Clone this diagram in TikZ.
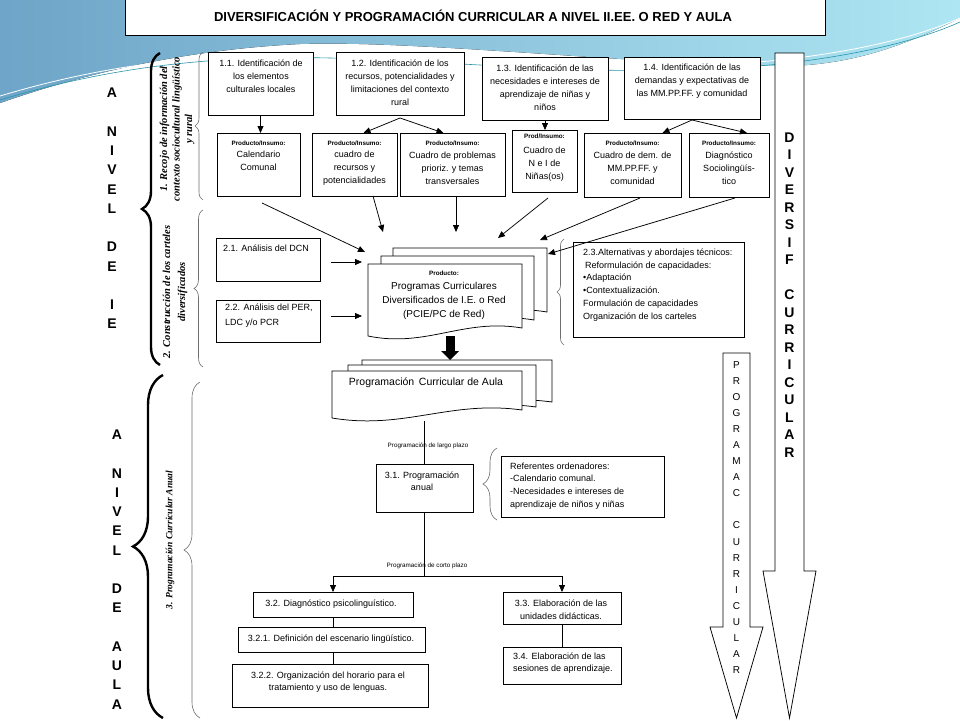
\documentclass[tikz,border=0pt]{standalone}
\usepackage{fontspec}
\setmainfont{Liberation Sans}
\newfontfamily\rotf{Liberation Serif}
\usetikzlibrary{arrows.meta,decorations.pathreplacing,calc}
\definecolor{bgA}{RGB}{110,165,200}
\definecolor{bgB}{RGB}{90,200,228}
\definecolor{bgC}{RGB}{175,230,243}
\definecolor{wline}{RGB}{40,150,170}
\definecolor{brgray}{RGB}{110,110,110}
\newcommand\rbox[5]{\node[bx, minimum width={(#4)-(#2)}, minimum height={(#5)-(#3)}] (#1) at ({((#2)+(#4))/2},{((#3)+(#5))/2}) {};}
\newcommand\docsh[6]{\draw[docst] (#2,#3) -- (#4,#3) -- (#4,#6) .. controls ({(#2)+0.62*((#4)-(#2))},{(#6)-10}) and ({(#2)+0.38*((#4)-(#2))},{(#5)+12}) .. (#2,#5) -- cycle; \coordinate (#1) at ({((#2)+(#4))/2},#3);}
\begin{document}
\begin{tikzpicture}[x=1pt,y=-1pt,
 bx/.style={draw, line width=0.75pt, fill=white, inner sep=0pt, outer sep=0pt},
 docst/.style={draw, line width=0.75pt, fill=white},
 txt/.style={align=center, inner sep=0pt, font=\fontsize{9}{13}\selectfont},
 ltxt/.style={align=left, inner sep=0pt, anchor=west, font=\fontsize{9}{12.8}\selectfont},
 hdr/.style={inner sep=0pt, font=\fontsize{6.3}{7}\selectfont\bfseries},
 tinyt/.style={inner sep=0pt, font=\fontsize{6.3}{7}\selectfont},
 arr/.style={line width=0.75pt, -{Triangle[length=7pt,width=6pt]}},
 ln/.style={line width=0.75pt},
 bigbrace/.style={decorate, decoration={brace, amplitude=#1}, line width=2.4pt},
 thinbrace/.style={decorate, decoration={brace, amplitude=#1}, line width=0.6pt, draw=brgray},
 vlet/.style={align=center, inner sep=0pt, font=\fontsize{14}{19.25}\selectfont\bfseries},
 rot/.style={rotate=90, align=center, inner sep=0pt, font=\rotf\bfseries\itshape\fontsize{10.5}{12.5}\selectfont}]
\useasboundingbox (0,0) rectangle (960,720);
\fill[white] (0,0) rectangle (960,720);
% background wave
\fill[left color=bgA, middle color=bgB, right color=bgC] (0,0) -- (960,0) -- (960,18) .. controls (900,48) and (850,64) .. (790,66) .. controls (650,66) and (420,40) .. (300,44) .. controls (180,50) and (80,75) .. (0,103) -- cycle;
\draw[wline, line width=0.6pt] (0,100) .. controls (100,70) and (200,55) .. (330,58) .. controls (480,62) and (620,80) .. (780,64) .. controls (860,55) and (920,40) .. (960,22);
\draw[white, line width=0.8pt] (0,96) .. controls (100,66) and (200,52) .. (330,55) .. controls (480,59) and (620,76) .. (780,60) .. controls (860,51) and (920,36) .. (960,18);

% title
\rbox{title}{125}{-2}{825}{35}
\node[inner sep=0pt, font=\fontsize{13}{15}\selectfont\bfseries] (titlet) at (473,16) {DIVERSIFICACIÓN Y PROGRAMACIÓN CURRICULAR A NIVEL II.EE. O RED Y AULA};

% left labels
\node[vlet] (lv1) at (112,208.5) {A\\[19.25pt]N\\I\\V\\E\\L\\[19.25pt]D\\E\\[19.25pt]I\\E};
\node[vlet] (lv2) at (117,569.5) {A\\[19.25pt]N\\I\\V\\E\\L\\[19.25pt]D\\E\\[19.25pt]A\\U\\L\\A};
\draw[bigbrace=18] (160,365) -- (160,53);
\draw[bigbrace=30] (163,718) -- (163,375);
\node[rot] (r1) at (177,129) {1. Recojo de información del\\contexto sociocultural lingüístico\\y rural};
\node[rot, font=\rotf\bfseries\itshape\fontsize{10.5}{15}\selectfont] (r2) at (175,292) {2. Construcción de los carteles\\diversificados};
\node[rot, font=\rotf\bfseries\itshape\fontsize{9.5}{12}\selectfont] (r3) at (170,540) {3. Programación Curricular Anual};
\draw[thinbrace=8] (203,200) -- (203,52);
\draw[thinbrace=9] (203,367) -- (203,210);
\draw[thinbrace=16] (200,718) -- (200,382);

% row 1
\rbox{b11}{208}{52}{313}{115}
\rbox{b12}{336}{52}{464}{115}
\rbox{b13}{482}{57}{608}{120}
\rbox{b14}{624}{57}{760}{119}
\node[txt] (t11) at (261,76) {1.1. Identificación de\\los elementos\\culturales locales};
\node[txt] (t12) at (400,83) {1.2. Identificación de los\\recursos, potencialidades y\\limitaciones del contexto\\rural};
\node[txt] (t13) at (545,87.5) {1.3. Identificación de las\\necesidades e intereses de\\aprendizaje de niñas y\\niños};
\node[txt] (t14) at (692,81) {1.4. Identificación de las\\demandas y expectativas de\\las MM.PP.FF. y comunidad};

% row 2
\rbox{p1}{217}{133}{300}{196}
\rbox{p2}{312}{133}{397}{196}
\rbox{p3}{400}{133}{505}{196}
\rbox{p4}{512}{130}{577}{192}
\rbox{p5}{584}{133}{681}{197}
\rbox{p6}{689}{133}{769}{197}
\node[hdr] (h1) at (258.5,143) {Producto/Insumo:};
\node[txt] (q1) at (258.5,161) {Calendario\\Comunal};
\node[hdr] (h2) at (354.5,143) {Producto/Insumo:};
\node[txt] (q2) at (354.5,168) {cuadro de\\recursos y\\potencialidades};
\node[hdr] (h3) at (452.5,143) {Producto/Insumo:};
\node[txt] (q3) at (452.5,168) {Cuadro de problemas\\prioriz. y temas\\transversales};
\node[hdr] (h4) at (544.5,136) {Prod/Insumo:};
\node[txt] (q4) at (544.5,164) {Cuadro de\\N e I de\\Niñas(os)};
\node[hdr] (h5) at (632.5,143) {Producto/Insumo:};
\node[txt] (q5) at (632.5,168) {Cuadro de dem. de\\MM.PP.FF. y\\comunidad};
\node[hdr] (h6) at (729,143) {Producto/Insumo:};
\node[txt] (q6) at (729,168) {Diagnóstico\\Sociolingüís-\\tico};

\draw[arr] (b11.south) -- (b11.south |- p1.north);
\draw[arr] ([yshift=-3pt]b12.south) -- ([xshift=9pt]p2.north);
\draw[arr] ([yshift=-3pt]b12.south) -- ([xshift=-9pt]p3.north);
\draw[arr] (b13.south) -- (b13.south |- p4.north);
\draw[arr] ([yshift=-1pt]b14.south) -- ([xshift=30pt]p5.north);
\draw[arr] ([yshift=-1pt]b14.south) -- ([xshift=18pt]p6.north);

% section 2
\rbox{b21}{216}{238}{320}{281}
\rbox{b22}{216}{300}{320}{342}
\node[txt] (t21) at (266,248) {2.1. Análisis del DCN};
\node[ltxt, font=\fontsize{9}{14.5}\selectfont] (t22) at (225,315.5) {2.2. Análisis del PER,\\LDC y/o PCR};
\rbox{b23}{573}{242}{744}{337}
\node[ltxt] (t23) at (583,285) {2.3.Alternativas y abordajes técnicos:\\\hspace*{2pt}Reformulación de capacidades:\\•Adaptación\\•Contextualización.\\Formulación de capacidades\\Organización de los carteles};
\draw[thinbrace=7] (564,345) -- (564,239);

% thick arrow
\fill (445.5,336) rectangle (454.5,352);
\fill (441,351) -- (459,351) -- (450,360) -- cycle;

% document stack 1
\docsh{dA3}{393}{248}{547}{320}{312}
\docsh{dA2}{381}{256}{534}{328}{320}
\docsh{dA1}{368}{264}{522}{336}{328}
\node[hdr] (prd) at (444,273) {Producto:};
\node[txt, font=\fontsize{10}{13.7}\selectfont] (pcd) at (444,301) {Programas Curriculares\\Diversificados de I.E. o Red\\(PCIE/PC de Red)};

% arrows into stack 1
\coordinate (s21) at (331,262); \coordinate (e21) at (362,262);
\coordinate (s22) at (331,316); \coordinate (e22) at (362,316);
\draw[arr] (s21) -- (e21);
\draw[arr] (s22) -- (e22);
\coordinate (e1) at (365,252);
\coordinate (e2) at (383,232);
\coordinate (e3) at (456,232);
\coordinate (e4) at (498,238);
\coordinate (e5) at (540,240);
\coordinate (e6) at (548,254);
\draw[arr] ([xshift=3.5pt,yshift=-7pt]p1.south) -- (e1);
\draw[arr] ([xshift=18.5pt]p2.south) -- (e2);
\draw[arr] ([xshift=3.5pt]p3.south) -- (e3);
\draw[arr] ([xshift=3.5pt,yshift=-6pt]p4.south) -- (e4);
\draw[arr] ([xshift=7.5pt,yshift=-1pt]p5.south) -- (e5);
\draw[arr] ([xshift=6pt,yshift=-1pt]p6.south) -- (e6);

% document stack 2
\docsh{dB3}{362}{360}{552}{410}{402}
\docsh{dB2}{348}{365}{536}{414}{407}
\docsh{dB1}{332}{371}{522}{418}{410}
\node[inner sep=0pt, font=\fontsize{10.5}{12}\selectfont] (pca) at (426,383) {Programación\, Curricular de Aula};

% section 3
\coordinate (d2b) at (424,421);
\rbox{b31}{376}{464}{473}{512}
\node[txt, font=\fontsize{9}{11.5}\selectfont] (t31) at (422,481) {3.1. Programación\\anual};
\draw[ln] (d2b) -- (d2b |- b31.north);
\node[tinyt] (lp) at (428,446) {Programación de largo plazo};
\rbox{bref}{501}{456}{664}{517}
\node[ltxt] (tref) at (510,486) {Referentes ordenadores:\\-Calendario comunal.\\-Necesidades e intereses de\\aprendizaje de niños y niñas};
\draw[thinbrace=14] (497,520) -- (497,448);

\coordinate (jC) at (424,576);
\coordinate (jL) at (333,576);
\coordinate (jR) at (562,576);
\draw[ln] (b31.south -| d2b) -- (jC);
\draw[ln] (jL) -- (jR);
\node[tinyt] (cp) at (427,566) {Programación de corto plazo};

\rbox{b32}{253}{592}{413}{617}
\rbox{b321}{238}{627}{425}{652}
\rbox{b322}{232}{664}{428}{707}
\rbox{b33}{503}{592}{621}{624}
\rbox{b34}{503}{647}{621}{684}
\node[txt] (t32) at (331,604) {3.2. Diagnóstico psicolinguístico.};
\node[txt] (t321) at (331,639) {3.2.1. Definición del escenario lingüístico.};
\node[txt, font=\fontsize{9}{12}\selectfont] (t322) at (328,682) {3.2.2. Organización del horario para el\\tratamiento y uso de lenguas.};
\node[txt] (t33) at (561,610) {3.3. Elaboración de las\\unidades didácticas.};
\node[ltxt, font=\fontsize{9}{12}\selectfont] (t34) at (513,663) {3.4. Elaboración de las\\sesiones de aprendizaje.};
\draw[arr] (jL) -- (b32.north);
\draw[arr] (jR) -- (b33.north);
\draw[ln] (b32.south) -- (b32.south |- b321.north);
\draw[ln] (b32.south |- b321.south) -- (b32.south |- b322.north);
\draw[ln] (b33.south) -- (b34.north);

% right arrows
\draw[docst] (775,53) -- (804,53) -- (804,571) -- (816,571) -- (789.5,718) -- (763,571) -- (775,571) -- cycle;
\draw[docst] (723,353) -- (750,353) -- (750,627) -- (763,627) -- (736.5,718) -- (710,627) -- (723,627) -- cycle;
\node[align=center, inner sep=0pt, font=\fontsize{14}{17.5}\selectfont\bfseries] (dv) at (789.5,295) {D\\I\\V\\E\\R\\S\\I\\F\\[17.5pt]C\\U\\R\\R\\I\\C\\U\\L\\A\\R};
\node[align=center, inner sep=0pt, font=\fontsize{10}{16.05}\selectfont] (pc) at (736.5,517.5) {P\\R\\O\\G\\R\\A\\M\\A\\C\\[16.05pt]C\\U\\R\\R\\I\\C\\U\\L\\A\\R};
\end{tikzpicture}
\end{document}
